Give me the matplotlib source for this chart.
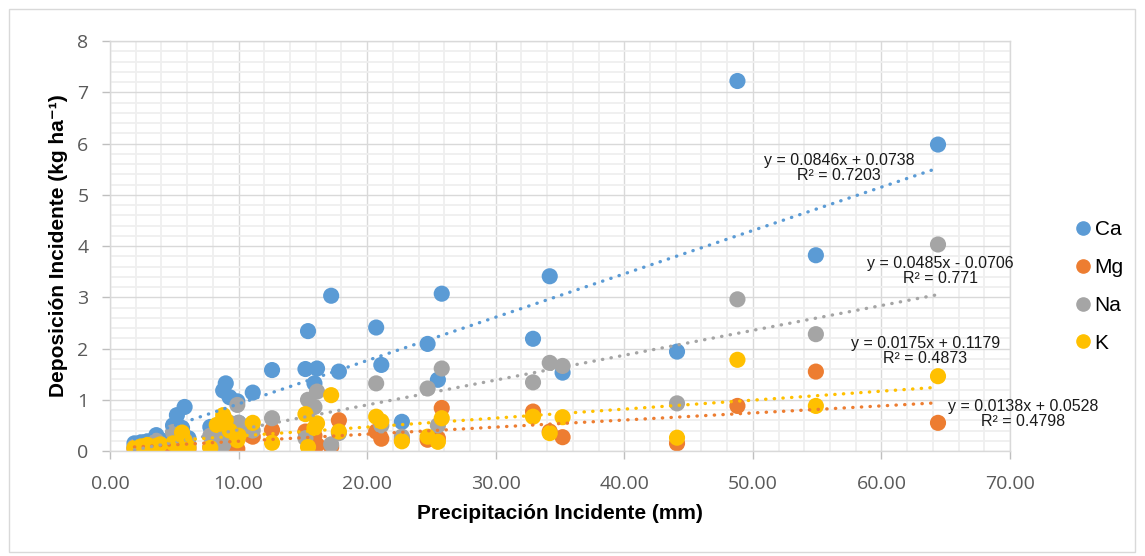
import numpy as np
import matplotlib
matplotlib.use('Agg')
import matplotlib.pyplot as plt
from matplotlib.ticker import MultipleLocator, FormatStrFormatter
from matplotlib.lines import Line2D
from matplotlib.patches import Rectangle

plt.rcParams['font.family'] = ['Liberation Sans', 'DejaVu Sans']

# precipitacion incidente (mm)
precip = [1.9, 2.4, 2.9, 3.6, 3.9, 4.9, 5.2, 5.6, 5.8, 6.1,
          7.8, 8.3, 8.8, 9.0, 9.3, 9.9, 10.0, 11.1, 12.6, 15.2,
          15.4, 15.9, 16.1, 17.2, 17.8, 20.7, 21.1, 22.7, 24.7, 25.5,
          25.8, 32.9, 34.2, 35.2, 44.1, 48.8, 54.9, 64.4]

ca = [0.15, 0.17, 0.19, 0.31, 0.22, 0.50, 0.70, 0.45, 0.86, 0.25,
      0.47, 0.40, 1.18, 1.32, 1.05, 0.97, 0.55, 1.14, 1.58, 1.60,
      2.34, 1.32, 1.61, 3.03, 1.55, 2.41, 1.68, 0.57, 2.09, 1.39,
      3.07, 2.19, 3.41, 1.53, 1.94, 7.22, 3.82, 5.98]

mg = [0.04, 0.06, 0.05, 0.09, 0.07, 0.10, 0.06, 0.12, 0.05, 0.03,
      0.08, 0.02, 0.30, 0.25, 0.15, 0.04, 0.30, 0.28, 0.41, 0.38,
      0.20, 0.30, 0.12, 0.08, 0.60, 0.38, 0.24, 0.22, 0.22, 0.25,
      0.84, 0.77, 0.38, 0.27, 0.15, 0.88, 1.55, 0.55]

na = [0.08, 0.04, 0.02, 0.20, 0.14, 0.37, 0.28, 0.30, 0.22, 0.10,
      0.30, 0.25, 0.12, 0.35, 0.55, 0.90, 0.55, 0.40, 0.64, 0.25,
      1.00, 0.86, 1.16, 0.13, 0.35, 1.32, 0.50, 0.28, 1.22, 0.50,
      1.61, 1.34, 1.72, 1.66, 0.93, 2.96, 2.28, 4.03]

k = [0.06, 0.09, 0.12, 0.10, 0.13, 0.15, 0.12, 0.36, 0.20, 0.07,
     0.06, 0.51, 0.70, 0.60, 0.40, 0.21, 0.30, 0.55, 0.16, 0.72,
     0.08, 0.45, 0.54, 1.09, 0.38, 0.67, 0.58, 0.19, 0.28, 0.18,
     0.64, 0.67, 0.35, 0.66, 0.26, 1.78, 0.88, 1.46]

nombres = ['Ca', 'Mg', 'Na', 'K']
series = [ca, mg, na, k]
colores = ['#5B9BD5', '#ED7D31', '#A5A5A5', '#FFC000']

# lineas de tendencia (de las ecuaciones del grafico)
pendientes = [0.0846, 0.0138, 0.0485, 0.0175]
interceptos = [0.0738, 0.0528, -0.0706, 0.1179]
ecuaciones = ['y = 0.0846x + 0.0738\nR² = 0.7203',
              'y = 0.0138x + 0.0528\nR² = 0.4798',
              'y = 0.0485x - 0.0706\nR² = 0.771',
              'y = 0.0175x + 0.1179\nR² = 0.4873']
pos_ecuacion = [(56.7, 5.52), (71.05, 0.72), (64.6, 3.51), (63.4, 1.95)]

fig = plt.figure(figsize=(11.45, 5.56), dpi=100)
ax = fig.add_axes([0.0961, 0.1888, 0.7860, 0.7374])

fig.patches.append(Rectangle((9/1145, 1-552/556), 1126/1145, 543/556,
                             transform=fig.transFigure, fill=False,
                             edgecolor='#d9d9d9', lw=1))

x = np.array(precip)
for s, c, n in zip(series, colores, nombres):
    ax.scatter(x, s, s=135, color=c, edgecolors='none', zorder=2, label=n)

xt = np.array([x.min(), x.max()])
for m, b, c in zip(pendientes, interceptos, colores):
    ax.plot(xt, m*xt + b, color=c, lw=2.4, linestyle=(0, (0.1, 2.5)),
            dash_capstyle='round', zorder=3)

for txt, (px, py) in zip(ecuaciones, pos_ecuacion):
    ax.text(px, py, txt, ha='center', va='center', fontsize=11.5,
            color='#1a1a1a', linespacing=1.0, zorder=4, clip_on=False)

ax.set_xlim(0, 70)
ax.set_ylim(0, 8)
ax.xaxis.set_major_locator(MultipleLocator(10))
ax.xaxis.set_minor_locator(MultipleLocator(2))
ax.yaxis.set_major_locator(MultipleLocator(1))
ax.yaxis.set_minor_locator(MultipleLocator(0.2))
ax.xaxis.set_major_formatter(FormatStrFormatter('%.2f'))
ax.yaxis.set_major_formatter(FormatStrFormatter('%d'))

ax.grid(which='major', color='#d9d9d9', lw=1.0, zorder=0)
ax.grid(which='minor', color='#efefef', lw=1.3, zorder=0)
ax.set_axisbelow(True)
for sp in ax.spines.values():
    sp.set_color('#d9d9d9')
    sp.set_linewidth(1.0)

ax.tick_params(which='major', length=5.5, color='#bfbfbf', width=1,
               labelsize=14, labelcolor='#595959')
ax.tick_params(axis='x', which='major', pad=12)
ax.tick_params(axis='y', which='major', pad=10)
ax.tick_params(which='minor', length=0)
for lab in ax.get_xticklabels() + ax.get_yticklabels():
    lab.set_family('Open Sans')

ax.set_xlabel('Precipitación Incidente (mm)', fontsize=15, fontweight='bold',
              labelpad=8)
ax.set_ylabel('Deposición Incidente (kg ha⁻¹)', fontsize=15, fontweight='bold',
              labelpad=7)

handles = [Line2D([], [], marker='o', ls='none', color=c, markersize=9.5)
           for c in colores]
fig.legend(handles, nombres, loc='center left', bbox_to_anchor=(0.9315, 0.4847),
           frameon=False, fontsize=15, handlelength=0.6, handletextpad=0.25,
           labelspacing=0.9, borderpad=0)

fig.savefig('out.png', dpi=100)
